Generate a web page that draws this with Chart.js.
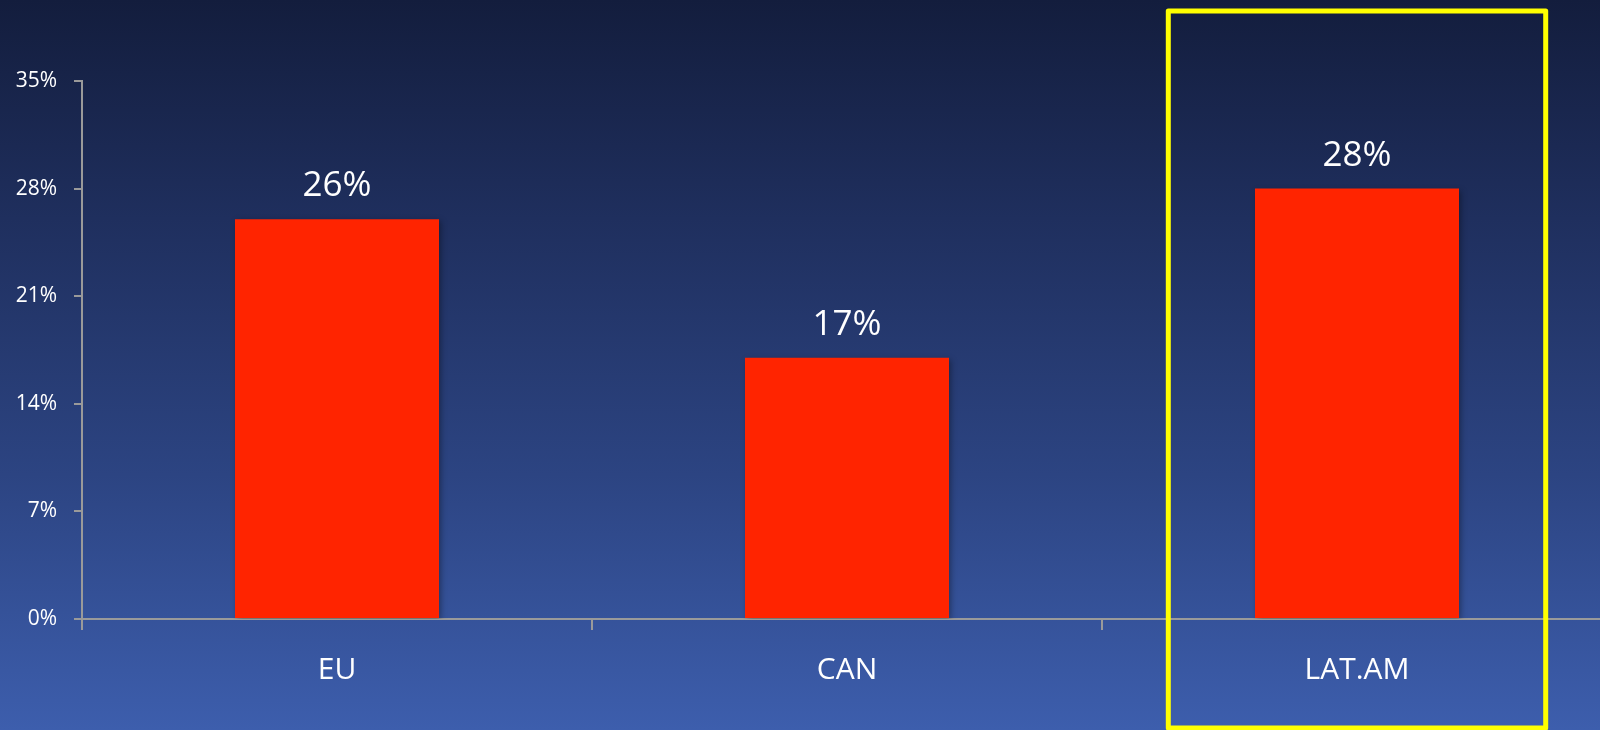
<!DOCTYPE html>
<html>
<head>
<meta charset="utf-8">
<title>Regional share</title>
<script src="https://cdn.jsdelivr.net/npm/chart.js@4/dist/chart.umd.min.js"></script>
<style>
  html, body {
    margin: 0;
    padding: 0;
    width: 1600px;
    height: 730px;
    overflow: hidden;
    background: linear-gradient(to bottom, #131d3d 0%, #1f2f5e 30%, #2c4482 65%, #3d5ead 100%);
  }
  #chart {
    position: absolute;
    left: 0;
    top: 0;
  }
</style>
</head>
<body>
<canvas id="chart" width="1612" height="730"></canvas>
<script>
// values
const regions = ["EU", "CAN", "LAT.AM"];
const shares = [26, 17, 28];
const yTicks = [0, 7, 14, 21, 28, 35];
const highlighted = "LAT.AM";

const axisGrey = "#9a9a9a";
const fontFamily = "'Open Sans', 'Noto Sans', sans-serif";

// value labels above each bar
const barLabels = {
  id: "barLabels",
  afterDatasetsDraw(chart) {
    const ctx = chart.ctx;
    const meta = chart.getDatasetMeta(0);
    ctx.save();
    ctx.fillStyle = "#ffffff";
    ctx.font = "35px " + fontFamily;
    ctx.textAlign = "center";
    ctx.textBaseline = "middle";
    meta.data.forEach((bar, i) => {
      ctx.fillText(shares[i] + "%", bar.x, bar.y - 33);
    });
    ctx.restore();
  },
};

// yellow frame around the highlighted region
const highlightBox = {
  id: "highlightBox",
  afterDraw(chart) {
    const idx = regions.indexOf(highlighted);
    if (idx < 0) return;
    const x = chart.scales.x;
    const cx = x.getPixelForValue(idx);
    const half = (x.width / regions.length) * 0.37;
    const ctx = chart.ctx;
    ctx.save();
    ctx.strokeStyle = "#ffff00";
    ctx.lineWidth = 5;
    ctx.lineJoin = "round";
    ctx.strokeRect(cx - half, 11, half * 2, chart.height - 13);
    ctx.restore();
  },
};

// soft shadow under the bars
const barShadow = {
  id: "barShadow",
  beforeDatasetsDraw(chart) {
    chart.ctx.save();
    chart.ctx.shadowColor = "rgba(0, 0, 0, 0.35)";
    chart.ctx.shadowBlur = 6;
    chart.ctx.shadowOffsetX = 2;
    chart.ctx.shadowOffsetY = 2;
  },
  afterDatasetsDraw(chart) {
    chart.ctx.restore();
  },
};

new Chart(document.getElementById("chart").getContext("2d"), {
  type: "bar",
  data: {
    labels: regions,
    datasets: [
      {
        data: shares,
        backgroundColor: "#ff2400",
        borderWidth: 0,
        barPercentage: 0.4,
        categoryPercentage: 1,
      },
    ],
  },
  options: {
    responsive: false,
    animation: false,
    layout: { padding: { top: 81, right: 0, left: 0, bottom: 0 } },
    plugins: {
      legend: { display: false },
      tooltip: { enabled: false },
    },
    scales: {
      x: {
        afterFit: (scale) => {
          scale.height = 111;
        },
        grid: {
          offset: true,
          drawOnChartArea: false,
          drawTicks: true,
          tickLength: 11,
          color: axisGrey,
          lineWidth: 2,
        },
        border: { display: true, color: axisGrey, width: 2 },
        ticks: {
          color: "#ffffff",
          font: { family: fontFamily, size: 30 },
          padding: 22,
        },
      },
      y: {
        min: 0,
        max: 35,
        afterFit: (scale) => {
          scale.width = 82;
        },
        afterBuildTicks: (scale) => {
          scale.ticks = yTicks.map((v) => ({ value: v }));
        },
        grid: {
          drawOnChartArea: false,
          drawTicks: true,
          tickLength: 8,
          color: axisGrey,
          lineWidth: 2,
        },
        border: { display: true, color: axisGrey, width: 2 },
        ticks: {
          color: "#ffffff",
          font: { family: fontFamily, size: 21 },
          padding: 17,
          callback: (value) => value + "%",
        },
      },
    },
  },
  plugins: [barShadow, barLabels, highlightBox],
});
</script>
</body>
</html>
